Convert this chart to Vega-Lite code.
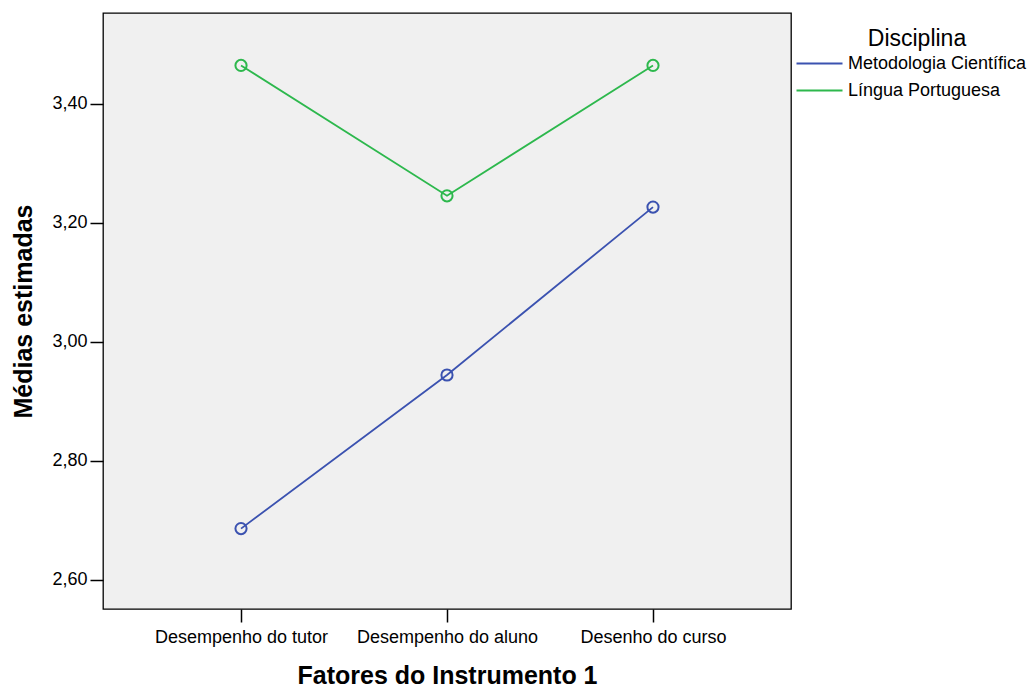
{
  "$schema": "https://vega.github.io/schema/vega-lite/v6.json",
  "width": 688,
  "height": 596,
  "autosize": "none",
  "padding": {"left": 103, "top": 13, "right": 241, "bottom": 79},
  "background": "white",
  "config": {
    "font": "Liberation Sans",
    "view": {"fill": "#f0f0f0", "stroke": "#000000", "strokeWidth": 1.3}
  },
  "data": {
    "values": [
      {"fator": "Desempenho do tutor", "disciplina": "Metodologia Científica", "media": 2.686},
      {"fator": "Desempenho do aluno", "disciplina": "Metodologia Científica", "media": 2.944},
      {"fator": "Desenho do curso", "disciplina": "Metodologia Científica", "media": 3.226},
      {"fator": "Desempenho do tutor", "disciplina": "Língua Portuguesa", "media": 3.464},
      {"fator": "Desempenho do aluno", "disciplina": "Língua Portuguesa", "media": 3.245},
      {"fator": "Desenho do curso", "disciplina": "Língua Portuguesa", "media": 3.464}
    ]
  },
  "encoding": {
    "x": {
      "field": "fator",
      "type": "ordinal",
      "sort": ["Desempenho do tutor", "Desempenho do aluno", "Desenho do curso"],
      "scale": {"type": "point", "padding": 0.67},
      "axis": {
        "title": "Fatores do Instrumento 1",
        "titleFontSize": 25,
        "titleFontWeight": "bold",
        "titleColor": "#000000",
        "titlePadding": 17,
        "labelAngle": 0,
        "labelFontSize": 18,
        "labelLimit": 0,
        "labelColor": "#000000",
        "labelPadding": 6,
        "tickSize": 13,
        "tickColor": "#000000",
        "tickWidth": 1.5,
        "domain": false,
        "grid": false
      }
    },
    "y": {
      "field": "media",
      "type": "quantitative",
      "scale": {"domain": [2.551, 3.552], "nice": false, "zero": false},
      "axis": {
        "title": "Médias estimadas",
        "titleFontSize": 25,
        "titleFontWeight": "bold",
        "titleColor": "#000000",
        "titlePadding": 15,
        "values": [2.6, 2.8, 3.0, 3.2, 3.4],
        "labelExpr": "replace(format(datum.value, '.2f'), '.', ',')",
        "labelFontSize": 18,
        "labelColor": "#000000",
        "labelPadding": 3,
        "tickSize": 13,
        "tickColor": "#000000",
        "tickWidth": 1.5,
        "domain": false,
        "grid": false
      }
    },
    "color": {
      "field": "disciplina",
      "type": "nominal",
      "sort": ["Metodologia Científica", "Língua Portuguesa"],
      "scale": {"range": ["#3b52b0", "#2db84d"]},
      "legend": {
        "title": "Disciplina",
        "orient": "none",
        "legendX": 704,
        "legendY": 15,
        "titleFontSize": 23,
        "titleFontWeight": "normal",
        "titleColor": "#000000",
        "titleAnchor": "middle",
        "titlePadding": 0,
        "labelFontSize": 18,
        "labelLimit": 0,
        "labelColor": "#000000",
        "labelOffset": 16,
        "symbolType": "M-2,0L2,0",
        "symbolSize": 529,
        "symbolStrokeWidth": 2,
        "rowPadding": 5
      }
    }
  },
  "layer": [
    {"mark": {"type": "line", "strokeWidth": 1.8}},
    {"mark": {"type": "point", "filled": false, "size": 125, "strokeWidth": 2, "opacity": 1}}
  ]
}
